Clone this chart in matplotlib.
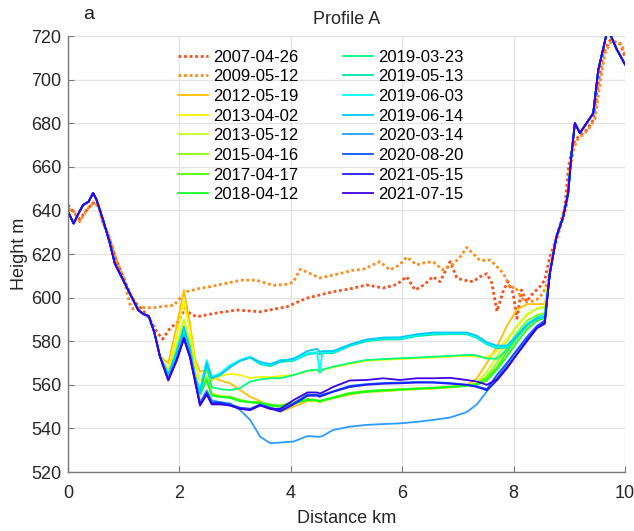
import matplotlib
matplotlib.use('Agg')
import matplotlib.pyplot as plt
import numpy as np

# survey dates and their line colours
dates = ['2007-04-26', '2009-05-12', '2012-05-19', '2013-04-02', '2013-05-12',
         '2015-04-16', '2017-04-17', '2018-04-12', '2019-03-23', '2019-05-13',
         '2019-06-03', '2019-06-14', '2020-03-14', '2020-08-20', '2021-05-15',
         '2021-07-15']
colors = ['#ff4d1a', '#ff8c1a', '#ffc000', '#f5f500', '#c8ff1e', '#8cff00',
          '#50ff00', '#14ff28', '#00ff80', '#00e6a8', '#00ffff', '#00c8ff',
          '#2d9bff', '#0a55ff', '#1e1eff', '#3c00e6']

# older profiles (dotted), own distance grid
km_2007 = [0, 0.1, 0.21, 0.33, 0.45, 0.55, 0.63, 0.72, 0.87, 0.99, 1.11, 1.2,
           1.35, 1.47, 1.6, 1.7, 1.83, 1.98, 2.1, 2.19, 2.31, 2.61, 3.03, 3.45,
           3.93, 4.28, 4.52, 4.76, 5.06, 5.36, 5.66, 5.9, 6.08, 6.23, 6.4, 6.55,
           6.68, 6.86, 6.98, 7.1, 7.27, 7.4, 7.52, 7.61, 7.7, 7.82, 7.9, 7.99,
           8.06, 8.14, 8.23, 8.32, 8.47, 8.56, 8.65, 8.74, 8.83, 8.92, 8.98, 9.04,
           9.1, 9.31, 9.43, 9.52, 9.61, 9.73, 9.91, 10.0]
h_2007 = [642.5, 639, 636, 640, 643.5, 642, 634, 629, 617, 609.6, 602, 598,
          594, 590, 584, 581, 585.9, 589, 595, 592.7, 591.2, 592.7, 594.3, 593.5,
          595.8, 599.7, 601.2, 602.7, 604, 605.8, 604.4, 606, 609.6, 603.5, 606, 609.6,
          607.3, 616.5, 609, 608, 607.3, 609.6, 611, 606.6, 593.7, 603.5, 607.3, 602,
          590.5, 603.5, 598.1, 601.2, 605, 608, 618.8, 625, 633, 641.7, 658.5, 667.7,
          672.3, 676.9, 681.5, 698.5, 712, 718, 716.6, 710.5]

km_2009 = [0, 0.13, 0.21, 0.33, 0.45, 0.55, 0.63, 0.72, 0.87, 0.99, 1.11, 1.17,
           1.3, 1.5, 1.65, 1.9, 2.01, 2.13, 2.37, 2.55, 2.85, 3.1, 3.38, 3.68,
           3.9, 4.04, 4.17, 4.35, 4.52, 4.7, 4.88, 5.1, 5.3, 5.6, 5.78, 5.95,
           6.08, 6.26, 6.4, 6.55, 6.73, 6.9, 7.05, 7.16, 7.28, 7.4, 7.58, 7.7,
           7.82, 7.94, 8.03, 8.11, 8.2, 8.29, 8.41, 8.53, 8.62, 8.68, 8.77, 8.86,
           8.95, 9.01, 9.07, 9.13, 9.34, 9.46, 9.55, 9.64, 9.76, 9.94, 10.0]
h_2009 = [641, 639, 634.8, 640, 643.4, 642, 634, 629.5, 617, 609.6, 597, 594.8,
          595.5, 595.3, 595.8, 596.5, 599.7, 602.7, 604.3, 605, 606.6, 608, 608, 605.6,
          606, 607, 613, 611, 609, 610, 611, 612.5, 613, 616.5, 612.7, 615,
          618.6, 615, 616, 616.5, 612.7, 615, 619, 623, 620, 617, 617.2, 614.2,
          611, 604.3, 605, 601.2, 598.1, 598, 599, 602, 608, 617.2, 626.4, 634,
          642, 658, 667, 672, 677, 682, 698, 712, 718, 716, 712]

# newer profiles share the valley walls
left_km = [0.0, 0.1, 0.19, 0.27, 0.37, 0.45, 0.51, 0.63, 0.75, 0.84, 0.96,
           1.05, 1.14, 1.26, 1.35, 1.45, 1.55, 1.65]
left_h = [639.5, 634, 638.7, 642.5, 644, 648, 645, 635.6, 625, 615.7, 609.6,
          605, 600.4, 594.3, 592.5, 591.5, 584, 573]
right_km = [8.65, 8.77, 8.89, 8.98, 9.04, 9.10, 9.19, 9.31, 9.43, 9.52, 9.67,
            9.73, 9.85, 10.0]
right_h = [611, 628, 637, 648, 666, 680, 675.5, 680, 684.6, 704.4, 721,
           721, 714, 707]

# glacier surface section between the walls
mid_km = [1.80, 1.95, 2.08, 2.19, 2.28, 2.37, 2.49, 2.58,
          2.73, 2.91, 3.09, 3.27, 3.45, 3.63, 3.81, 4.05,
          4.30, 4.47, 4.52, 4.57, 4.76, 5.06, 5.36, 5.66,
          5.96, 6.26, 6.56, 6.86, 7.16, 7.34, 7.52,
          7.70, 7.88, 8.06, 8.24, 8.42, 8.56]

h_2012 = [570, 587, 603.5, 588, 572, 566, 567, 563.7,
          562, 560.7, 557.6, 554.5, 552.5, 550, 547.6, 550,
          552.5, 552.5, 552, 552.5, 553.8, 555.5, 556.8, 557,
          557.6, 558, 558.3, 558.8, 560, 563, 570,
          577.5, 587, 594.5, 597, 597, 597]
h_2013a = [567, 582, 598.5, 585, 570, 562, 566, 562,
           564, 565, 564.5, 563, 563.7, 563.5, 564, 564.5,
           566.3, 566.8, 566.3, 566.8, 568, 569.6, 571, 571.5,
           571.8, 572.2, 572.5, 573, 573.3, 573, 572.5,
           575.5, 581, 587, 592, 595, 596]
h_2013b = [566, 578, 590, 580, 566, 558, 564, 556,
           555, 554.5, 553, 552, 551.5, 550.5, 550, 551.5,
           553, 552.5, 552.2, 552.5, 554, 556, 556.8, 557.2,
           557.6, 558, 558.3, 558.8, 559.5, 561, 566,
           573, 580, 587, 592.5, 595, 595.5]
h_2015 = [565, 576, 587, 578, 565, 557, 563, 555.5,
          554.5, 554, 552.5, 552, 551.5, 550.5, 550, 551.5,
          553, 552.8, 552.2, 552.8, 554, 556, 557, 557.3,
          557.8, 558.2, 558.5, 559, 559.5, 560.5, 564,
          570, 577, 584, 589.5, 592, 593]
h_2017 = [564.5, 575, 585.5, 577, 564, 556, 562.5, 555.3,
          554.5, 554.5, 553, 552.2, 552, 551, 550.5, 552,
          553.5, 553, 552.5, 553, 554.3, 556.3, 557.2, 557.6,
          558, 558.4, 558.7, 559.2, 559.8, 560.3, 563,
          568, 575, 581.5, 587, 590.5, 591.5]
h_2018 = [564, 574, 585, 576, 563.5, 555.5, 562, 555,
          554.5, 554, 552.5, 552, 551.5, 550.5, 550, 551.5,
          553, 552.8, 552.3, 552.8, 554, 556, 556.8, 557.4,
          557.8, 558.2, 558.5, 559, 559.5, 560, 562,
          567, 573, 579.5, 585.5, 589.5, 590.5]
h_2019a = [564, 574, 584, 575, 563, 556, 568, 559,
           558, 557.6, 558.5, 561.5, 562.5, 563, 563, 564.5,
           566.5, 567, 565.5, 567, 568.3, 570, 571.4, 571.8,
           572.2, 572.5, 572.9, 573.3, 573.7, 573.5, 572,
           572, 576, 582, 587.5, 591, 592]
h_2019b = [564.5, 575, 585.5, 576, 563.5, 557, 570.5, 563,
           564.5, 568.5, 571, 572.5, 569.5, 568.5, 570.5, 571,
           574, 574.5, 574, 574.5, 574.5, 577.8, 580, 580.8,
           580.8, 582.3, 583, 583.2, 583.2, 581.5, 578.5,
           576.8, 577, 582, 587.5, 590.5, 591]
h_2019c = [565, 575, 586, 576, 563.7, 557.6, 571.4, 563.7,
           565.3, 569, 571.4, 573, 570, 569, 571.4, 571.4,
           574.5, 575, 566, 575, 575, 578.3, 580.5, 581.3,
           581.3, 582.8, 583.6, 583.6, 583.6, 582, 579,
           577.3, 577.5, 583, 588, 591, 591.5]
h_2019d = [564.5, 574.5, 586.5, 576, 563.5, 556.5, 570, 563,
           564.5, 568, 571, 572.5, 570.5, 569.5, 571, 572,
           575.5, 576.5, 575, 575.5, 575.5, 578.5, 580.8, 581.7,
           581.8, 583.2, 584, 584, 584, 582.5, 579.5,
           578, 578, 582.5, 587.5, 590.5, 591]
h_2020a = [563, 572, 582.5, 574, 563, 552, 557.5, 553,
           552, 551.5, 548.4, 543.9, 536.2, 533.2, 533.5, 534,
           536.5, 536.2, 536.2, 536.5, 539.3, 540.8, 541.6, 542,
           542.3, 543, 543.9, 545, 547.5, 551, 557,
           563, 569.5, 575.5, 581.5, 586.5, 589]
h_2020b = [562.5, 571.5, 581.5, 573, 562, 551, 556.5, 552,
           552, 551, 549.5, 549, 551, 549.5, 548.3, 551.5,
           555.5, 555.5, 555, 555.5, 557, 559.5, 560.3, 560.8,
           561, 561.3, 561.2, 560.8, 560, 559.3, 558,
           564.5, 570, 576, 582, 587, 589.5]
h_2021a = [562.2, 571.4, 581.5, 573, 562, 550.7, 556, 551.5,
           551.5, 550.5, 549, 548.4, 550.7, 549, 547.8, 551,
           555, 555, 554.5, 555, 556.8, 559, 560, 560.5,
           560.7, 561, 561, 560.5, 560, 559, 557.5,
           562, 567.5, 574, 580.5, 586, 588.5]
h_2021b = [562, 571, 581, 572.5, 561.5, 550.5, 555.5, 551,
           551, 550.5, 549, 548.5, 550.5, 549, 549, 553,
           556.5, 556.5, 556, 556.5, 559, 562, 562.2, 563,
           562.2, 563, 563, 563.2, 562.2, 561.5, 560,
           562.5, 568, 574, 580, 586, 588]

mids = [h_2012, h_2013a, h_2013b, h_2015, h_2017, h_2018, h_2019a, h_2019b,
        h_2019c, h_2019d, h_2020a, h_2020b, h_2021a, h_2021b]


def main():
    plt.rcParams['font.family'] = ['Liberation Sans', 'DejaVu Sans']
    fig = plt.figure(figsize=(6.34, 5.31), dpi=100)
    ax = fig.add_axes([0.1073, 0.1111, 0.8785, 0.8211])

    ax.plot(km_2007, h_2007, color=colors[0], lw=2.0, ls=(0, (1, 1)),
            label=dates[0])
    ax.plot(km_2009, h_2009, color=colors[1], lw=2.0, ls=(0, (1, 1)),
            label=dates[1])

    for i, mid in enumerate(mids):
        km = left_km + mid_km + right_km
        h = left_h + mid + right_h
        ax.plot(km, h, color=colors[i + 2], lw=1.3, label=dates[i + 2])

    ax.set_xlim(0, 10)
    ax.set_ylim(520, 720)
    ax.set_xticks(np.arange(0, 11, 2))
    ax.set_yticks(np.arange(520, 721, 20))
    ax.grid(True, color='#e3e3e3', lw=0.9)
    ax.set_axisbelow(True)
    for s in ['top', 'right']:
        ax.spines[s].set_visible(False)
    for s in ['left', 'bottom']:
        ax.spines[s].set_color('#7a7a7a')
        ax.spines[s].set_linewidth(1.0)
    ax.tick_params(direction='in', length=4, color='#7a7a7a',
                   labelsize=13, labelcolor='#262626')
    ax.tick_params(axis='x', pad=9)
    ax.tick_params(axis='y', pad=5)

    ax.set_xlabel('Distance km', fontsize=13, color='#262626', labelpad=6)
    ax.set_ylabel('Height m', fontsize=13, color='#262626', labelpad=2)
    ax.set_title('Profile A', fontsize=13, color='#262626', pad=9)
    fig.text(0.131, 0.972, 'a', fontsize=14, color='#1a1a1a', va='center')

    ax.legend(ncol=2, loc='upper left', bbox_to_anchor=(0.197, 0.969),
              frameon=False, fontsize=12, handlelength=1.8, handletextpad=0.3,
              columnspacing=2.7, labelspacing=0.28, borderpad=0,
              borderaxespad=0)

    fig.savefig('out.png', dpi=100)


if __name__ == '__main__':
    main()
